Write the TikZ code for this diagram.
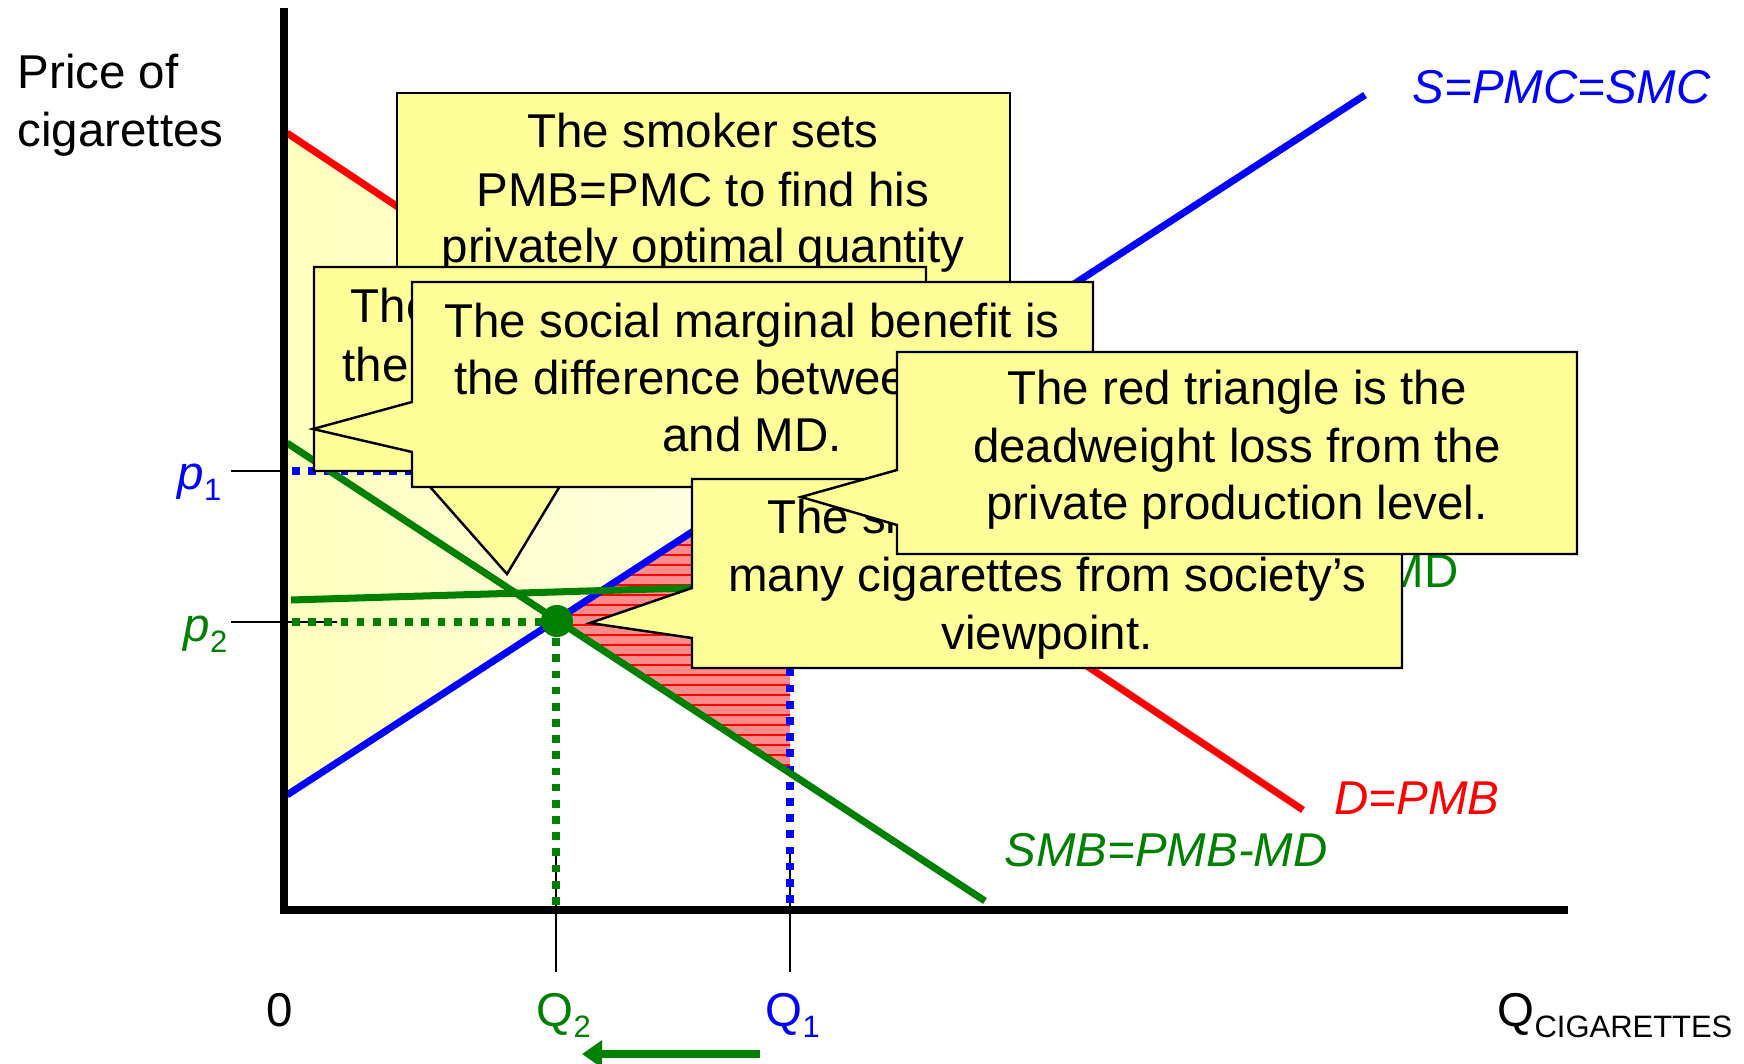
\documentclass[tikz,border=0pt]{standalone}
\usepackage{fontspec}
\setmainfont{Liberation Sans}
\usetikzlibrary{arrows.meta}
\definecolor{callfill}{HTML}{FFFF99}
\definecolor{ptgreen}{HTML}{008000}
\definecolor{dwlfill}{HTML}{FF8C8C}
\definecolor{ylwA}{HTML}{FFFFBE}
\definecolor{ylwB}{HTML}{FFFFE8}
\newcommand{\lsub}[1]{\raisebox{-3.1pt}{\fontsize{8.8}{9}\selectfont #1}}
\begin{document}
\begin{tikzpicture}[x=0.01cm,y=-0.01cm,
  font=\fontsize{13.5}{16.5}\selectfont,
  curve/.style={line width=2pt},
  dotline/.style={line width=2.3pt,dash pattern=on 2.2pt off 2.4pt},
  tickline/.style={line width=0.6pt},
  callout/.style={fill=callfill,draw=black,line width=0.7pt,line join=miter},
  txt/.style={anchor=base,inner sep=0pt},
  txtw/.style={anchor=base west,inner sep=0pt}]
\useasboundingbox (0,0) rectangle (1744,1064);
% key points
\coordinate (Dtop) at (287,133); \coordinate (Dend) at (1303,810);
\coordinate (Sbot) at (287,795); \coordinate (Send) at (1365,95);
\coordinate (Gtop) at (287,443); \coordinate (Gend) at (985,901);
\coordinate (MDs) at (291,600); \coordinate (MDe) at (1380,567);
\coordinate (Eq) at (557,621);
\coordinate (Pone) at (790,470); \coordinate (Gone) at (790,773);
% shaded areas
\shade[left color=ylwA,right color=ylwB] (Dtop) -- (Pone) -- (Sbot) -- cycle;
\fill[dwlfill] (Eq) -- (Pone) -- (Gone) -- cycle;
\begin{scope}
\clip (Eq) -- (Pone) -- (Gone) -- cycle;
\foreach \yy in {465,475,...,785} \draw[red,line width=0.3pt] (540,\yy) -- (800,\yy);
\end{scope}
% ticks
\draw[tickline] (231,471) -- (284,471);
\draw[tickline] (231,622) -- (337,622);
\draw[tickline] (556,853) -- (556,972);
\draw[tickline] (790,853) -- (790,972);
% dotted guides
\draw[blue,dotline] (292,471) -- (790,471) -- (790,910);
\draw[ptgreen,dotline] (292,622) -- (556,622);
\draw[ptgreen,dotline] (556,622) -- (556,910);
% curves
\draw[curve,red] (Dtop) -- (Dend);
\draw[curve,blue] (Sbot) -- (Send);
\draw[curve,ptgreen] (Gtop) -- (Gend);
\draw[curve,ptgreen] (MDs) -- (MDe);
% axes
\draw[line width=2.3pt,line join=miter] (284,8) -- (284,910) -- (1568,910);
% equilibrium
\fill[ptgreen] (Eq) circle[radius=0.16cm];
% labels
\node[txtw] (ylab1) at (17,89) {Price of};
\node[txtw] (ylab2) at (17,147) {cigarettes};
\node[txtw,text=blue] (lsmc) at (1412,104) {\itshape S=PMC=SMC};
\node[txtw,text=red] (lpmb) at (1334,815) {\itshape D=PMB};
\node[txtw,text=ptgreen] (lsmb) at (1004,867) {\itshape SMB=PMB-MD};
\node[txtw,text=ptgreen] (lmd) at (1384,588) {MD};
\node[txtw,text=blue] (lp1) at (177,490) {\itshape p\/\upshape\lsub{1}};
\node[txtw,text=ptgreen] (lp2) at (183,642) {\itshape p\/\upshape\lsub{2}};
\node[txt] (lzero) at (280,1027) {0};
\node[txtw,text=ptgreen] (lq2) at (536,1027) {Q\lsub{2}};
\node[txtw,text=blue] (lq1) at (765,1027) {Q\lsub{1}};
\node[txtw] (lqc) at (1497,1027) {Q\lsub{CIGARETTES}};
\coordinate (arrS) at (760,1054); \coordinate (arrE) at (582,1054);
\draw[ptgreen,line width=2.3pt,-{Triangle[length=5.7pt,width=7.5pt]}] (arrS) -- (arrE);
% callout A
\draw[callout] (397,93) rectangle (1010,300);
\node[txt] (a1) at (703,148) {The smoker sets};
\node[txt] (a2) at (703,207) {PMB=PMC to find his};
\node[txt] (a3) at (703,263) {privately optimal quantity};
% callout B
\draw[callout] (314,267) -- (926,267) -- (926,471) -- (569,471) -- (507,574) -- (416,471) -- (314,471) -- cycle;
\node[txtw] (b1) at (350,323) {The};
\node[txtw] (b2) at (342,382) {the};
% callout C
\draw[callout] (412,282) -- (1093,282) -- (1093,487) -- (412,487) -- (412,452) -- (313,429) -- (412,402) -- cycle;
\node[txt] (c1) at (752,338) {The social marginal benefit is};
\node[txt] (c2) at (752,395) {the difference between PMB};
\node[txt] (c3) at (752,452) {and MD.};
% callout E
\draw[callout] (692,479) -- (1402,479) -- (1402,668) -- (692,668) -- (692,638) -- (590,623) -- (692,588) -- cycle;
\node[txt] (e1) at (1047,534) {The smoker consumes too};
\node[txt] (e2) at (1047,592) {many cigarettes from society’s};
\node[txt] (e3) at (1047,650) {viewpoint.};
% callout D
\draw[callout] (897,352) -- (1577,352) -- (1577,554) -- (897,554) -- (897,525) -- (801,497) -- (897,470) -- cycle;
\node[txt] (d1) at (1237,405) {The red triangle is the};
\node[txt] (d2) at (1237,463) {deadweight loss from the};
\node[txt] (d3) at (1237,520) {private production level.};
\end{tikzpicture}
\end{document}
